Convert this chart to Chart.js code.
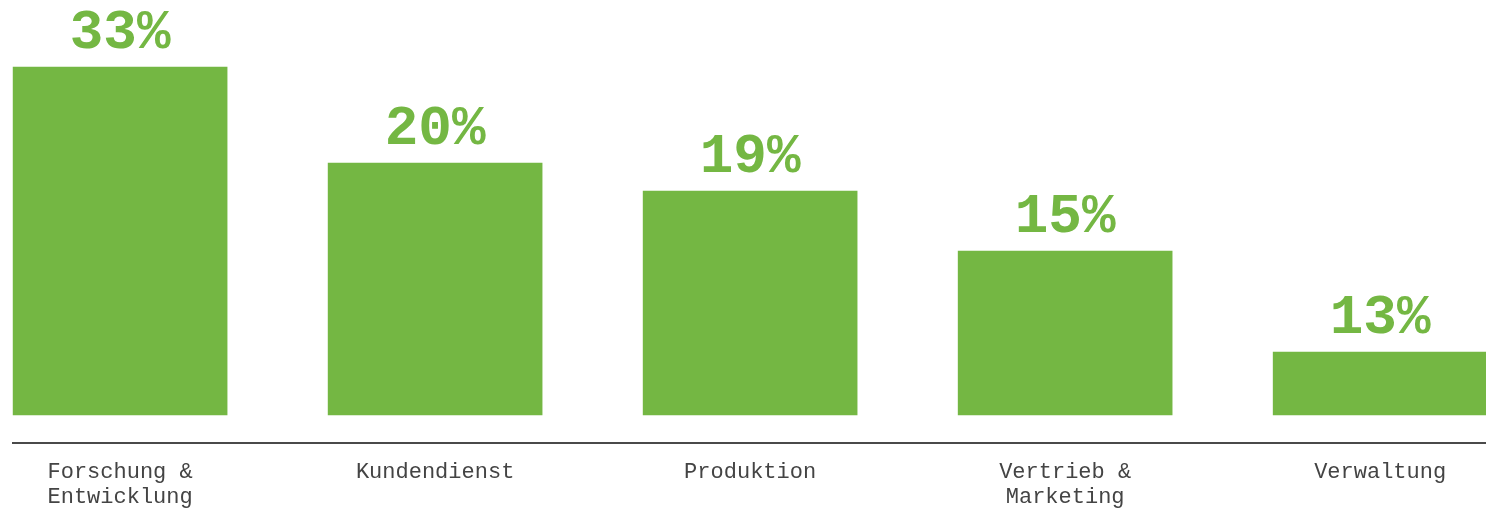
<!DOCTYPE html>
<html>
<head>
<meta charset="utf-8">
<script src="https://cdn.jsdelivr.net/npm/chart.js@4.4.1/dist/chart.umd.min.js"></script>
<style>
  html, body { margin: 0; padding: 0; background: #ffffff; }
  #chart { display: block; }
</style>
</head>
<body>
<canvas id="chart" width="1486" height="508"></canvas>
<script>
// categories (multi-line where the picture wraps them)
const categories = [
  ["Forschung &", "Entwicklung"],
  "Kundendienst",
  "Produktion",
  ["Vertrieb &", "Marketing"],
  "Verwaltung",
];
// printed share above each bar
const shares = [33, 20, 19, 15, 13];
// drawn bar heights (not proportional to the shares)
const barHeights = [34.8, 25.2, 22.4, 16.4, 6.3];

const green = "#74b743";
const monoFont = "'Courier New', 'Liberation Mono', monospace";

// draws "33%" etc. above each bar
const shareLabels = {
  id: "shareLabels",
  afterDatasetsDraw(chart) {
    const ctx = chart.ctx;
    const meta = chart.getDatasetMeta(0);
    ctx.save();
    ctx.font = "bold 56px " + monoFont;
    ctx.fillStyle = green;
    ctx.textAlign = "center";
    ctx.textBaseline = "alphabetic";
    meta.data.forEach((bar, i) => {
      ctx.fillText(shares[i] + "%", bar.x, bar.y - 19);
    });
    ctx.restore();
  },
};

new Chart(document.getElementById("chart"), {
  type: "bar",
  data: {
    datasets: [
      {
        data: barHeights.map((v, i) => ({ x: i, y: v })),
        backgroundColor: green,
        borderWidth: 0,
        barThickness: 214,
        clip: false,
      },
    ],
  },
  options: {
    responsive: false,
    animation: false,
    layout: { padding: { left: 13, right: 0, top: 0, bottom: 0 } },
    plugins: {
      legend: { display: false },
      tooltip: { enabled: false },
    },
    scales: {
      x: {
        type: "linear",
        offset: false,
        min: -0.34,
        max: 4.336,
        grid: { display: false, drawTicks: false },
        border: { display: true, color: "#4a4a4a", width: 2 },
        ticks: {
          stepSize: 1,
          includeBounds: false,
          autoSkip: false,
          maxRotation: 0,
          padding: 17,
          color: "#444444",
          font: { family: monoFont, size: 22, lineHeight: 25 / 22 },
          callback: (v) => (Number.isInteger(v) && categories[v]) ? categories[v] : "",
        },
        afterFit: (scale) => {
          scale.height = 65;
        },
      },
      y: {
        display: false,
        min: -2.8,
        max: 41.5,
      },
    },
  },
  plugins: [shareLabels],
});
</script>
</body>
</html>
